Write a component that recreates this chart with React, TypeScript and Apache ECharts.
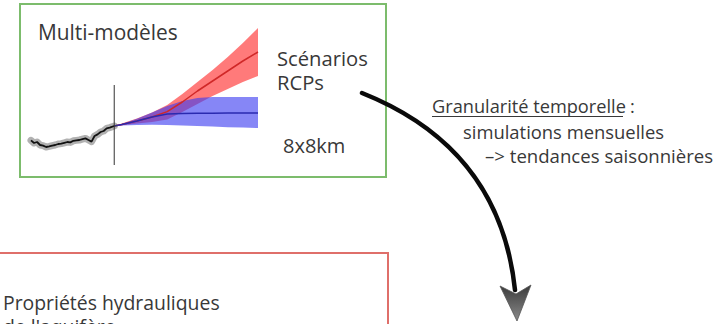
import React, { useEffect, useRef } from "react";
import * as echarts from "echarts";

// Historical (observed) series
const histYears = [1950, 1952, 1954, 1956, 1958, 1960, 1962, 1964, 1966, 1968, 1970, 1972, 1974, 1976, 1978, 1980, 1982, 1984, 1986, 1988, 1990, 1992, 1994, 1996, 1998, 2000, 2002, 2005];
const histValues = [-0.72, -0.85, -0.8, -0.95, -0.98, -1.05, -1.02, -0.98, -0.95, -0.9, -0.88, -0.84, -0.8, -0.82, -0.74, -0.72, -0.7, -0.66, -0.62, -0.7, -0.78, -0.5, -0.42, -0.3, -0.25, -0.12, -0.08, 0];

// Projections
const projYears = [2005, 2010, 2020, 2030, 2040, 2050, 2060, 2070, 2080, 2090, 2100];
const redUpper = [0, 0.12, 0.38, 0.68, 1.05, 1.6, 2.2, 2.8, 3.45, 4.15, 4.9];
const redMid = [0, 0.08, 0.25, 0.45, 0.72, 1.2, 1.75, 2.25, 2.75, 3.25, 3.7];
const redLower = [0, 0.04, 0.12, 0.2, 0.32, 0.7, 1.1, 1.5, 1.85, 2.2, 2.5];
const blueUpper = [0, 0.1, 0.36, 0.68, 1.0, 1.25, 1.4, 1.45, 1.45, 1.45, 1.45];
const blueMid = [0, 0.08, 0.25, 0.45, 0.6, 0.63, 0.64, 0.64, 0.65, 0.65, 0.65];
const blueLower = [0, 0.02, 0.05, 0.06, 0.05, 0.02, 0, -0.03, -0.06, -0.08, -0.1];

// "present" marker
const presentYear = 2005;
const presentRange = [-1.95, 2.05];

// Texts
const titleText = "Multi-modèles";
const scenarioLines = ["Scénarios", "RCPs"];
const resolutionText = "8x8km";
const granularityTitle = "Granularité temporelle";
const granularityLines = ["simulations mensuelles", "–> tendances saisonnières"];
const aquiferLines = ["Propriétés hydrauliques", "de l'aquifère"];

const FONT = '"Open Sans", "Noto Sans", sans-serif';
const TEXT_COLOR = "#383838";

function txt(text: string, x: number, baseline: number, size: number) {
  return {
    type: "text",
    x,
    y: baseline - 0.388 * size,
    silent: true,
    style: {
      text,
      fill: TEXT_COLOR,
      fontSize: size,
      fontFamily: FONT,
      verticalAlign: "middle",
      align: "left",
      lineHeight: size,
    },
  };
}

function band(upper: number[], lower: number[], fill: string) {
  return {
    type: "custom",
    silent: true,
    data: [[presentYear, 0]],
    renderItem: (_p: any, api: any) => {
      const pts: number[][] = [];
      for (let i = 0; i < projYears.length; i++) pts.push(api.coord([projYears[i], upper[i]]));
      for (let i = projYears.length - 1; i >= 0; i--) pts.push(api.coord([projYears[i], lower[i]]));
      return { type: "polygon", shape: { points: pts }, style: { fill } };
    },
  };
}

export default function App() {
  const ref = useRef<HTMLDivElement>(null);
  useEffect(() => {
    if (!ref.current) return;
    const chart = echarts.init(ref.current, undefined, { renderer: "svg" });
    const zip = (xs: number[], ys: number[]) => xs.map((x, i) => [x, ys[i]]);
    chart.setOption({
      animation: false,
      backgroundColor: "#ffffff",
      grid: { left: 31, top: 26, width: 227, height: 140 },
      xAxis: { type: "value", min: 1950, max: 2100, show: false },
      yAxis: { type: "value", min: -2, max: 5, show: false },
      series: [
        band(redUpper, redLower, "rgba(255,40,40,0.62)"),
        band(blueUpper, blueLower, "rgba(60,60,240,0.62)"),
        {
          type: "line", data: zip(projYears, redMid), symbol: "none", silent: true,
          lineStyle: { color: "#d02828", width: 1.5 },
        },
        {
          type: "line", data: zip(projYears, blueMid), symbol: "none", silent: true,
          lineStyle: { color: "#2a2ab0", width: 1.5 },
        },
        {
          type: "line", data: zip(histYears, histValues), symbol: "none", silent: true,
          lineStyle: { color: "rgba(60,60,60,0.4)", width: 7, cap: "round", join: "round" },
        },
        {
          type: "line", data: zip(histYears, histValues), symbol: "none", silent: true,
          lineStyle: { color: "#111", width: 1.8 },
        },
        {
          type: "line", data: presentRange.map((v) => [presentYear, v]), symbol: "none", silent: true,
          lineStyle: { color: "#333", width: 1 },
        },
      ],
      graphic: [
        {
          type: "rect", silent: true,
          shape: { x: 20, y: 4, width: 366, height: 173 },
          style: { fill: "none", stroke: "#7cbc6c", lineWidth: 2 },
        },
        {
          type: "rect", silent: true,
          shape: { x: -5, y: 253, width: 393, height: 100 },
          style: { fill: "none", stroke: "#df6f6a", lineWidth: 2 },
        },
        txt(titleText, 38, 40, 20.9),
        txt(scenarioLines[0], 277, 65.5, 20.2),
        txt(scenarioLines[1], 277, 89.5, 20.2),
        txt(resolutionText, 283, 153.5, 20),
        txt(granularityTitle, 432, 113, 18.2),
        txt(":", 630, 113, 18.2),
        {
          type: "line", silent: true,
          shape: { x1: 432, y1: 116.5, x2: 623, y2: 116.5 },
          style: { stroke: TEXT_COLOR, lineWidth: 1 },
        },
        txt(granularityLines[0], 463, 139, 18.4),
        txt(granularityLines[1], 485, 163, 18.6),
        txt(aquiferLines[0], 3, 310, 19.4),
        txt(aquiferLines[1], 3, 334, 19.4),
        {
          type: "bezierCurve", silent: true,
          shape: { x1: 362, y1: 93, cpx1: 500, cpy1: 148, x2: 515, y2: 290 },
          style: { stroke: "#0a0a0a", lineWidth: 4.5, fill: "none", lineCap: "round" },
        },
        {
          type: "polygon", silent: true,
          shape: { points: [[500, 286], [516, 294], [531, 285], [517, 321]] },
          style: {
            fill: new echarts.graphic.LinearGradient(0, 0, 0, 1, [
              { offset: 0, color: "#3a3a3a" },
              { offset: 1, color: "#8a8a8a" },
            ]),
            stroke: "#555",
            lineWidth: 0.8,
          },
        },
      ],
    });
    return () => chart.dispose();
  }, []);
  return (
    <div
      ref={ref}
      style={{ position: "absolute", left: 0, top: 0, width: 721, height: 324 }}
    />
  );
}
